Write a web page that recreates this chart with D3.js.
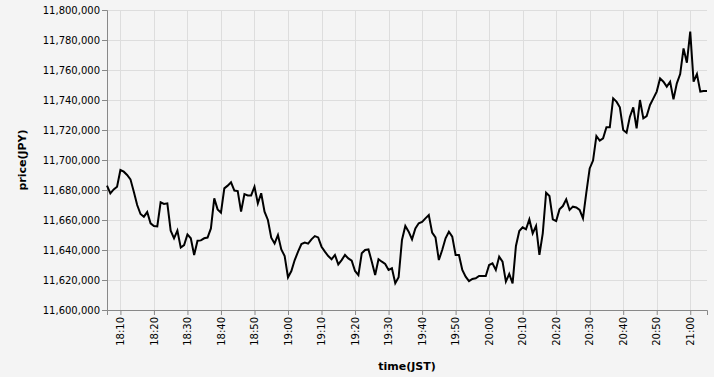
<!DOCTYPE html>
<html>
<head>
<meta charset="utf-8">
<script src="https://cdn.jsdelivr.net/npm/d3@7"></script>
<style>
  html, body { margin: 0; padding: 0; background: #f4f4f4; }
  svg { display: block; font-family: "DejaVu Sans", sans-serif; }
</style>
</head>
<body>
<svg id="chart" width="714" height="377"></svg>
<script>
const times = [
  "18:06","18:07","18:08","18:09","18:10","18:11","18:12","18:13","18:14","18:15","18:16","18:17","18:18","18:19",
  "18:20","18:21","18:22","18:23","18:24","18:25","18:26","18:27","18:28","18:29",
  "18:30","18:31","18:32","18:33","18:34","18:35","18:36","18:37","18:38","18:39",
  "18:40","18:41","18:42","18:43","18:44","18:45","18:46","18:47","18:48","18:49",
  "18:50","18:51","18:52","18:53","18:54","18:55","18:56","18:57","18:58","18:59",
  "19:00","19:01","19:02","19:03","19:04","19:05","19:06","19:07","19:08","19:09",
  "19:10","19:11","19:12","19:13","19:14","19:15","19:16","19:17","19:18","19:19",
  "19:20","19:21","19:22","19:23","19:24","19:25","19:26","19:27","19:28","19:29",
  "19:30","19:31","19:32","19:33","19:34","19:35","19:36","19:37","19:38","19:39",
  "19:40","19:41","19:42","19:43","19:44","19:45","19:46","19:47","19:48","19:49",
  "19:50","19:51","19:52","19:53","19:54","19:55","19:56","19:57","19:58","19:59",
  "20:00","20:01","20:02","20:03","20:04","20:05","20:06","20:07","20:08","20:09",
  "20:10","20:11","20:12","20:13","20:14","20:15","20:16","20:17","20:18","20:19",
  "20:20","20:21","20:22","20:23","20:24","20:25","20:26","20:27","20:28","20:29",
  "20:30","20:31","20:32","20:33","20:34","20:35","20:36","20:37","20:38","20:39",
  "20:40","20:41","20:42","20:43","20:44","20:45","20:46","20:47","20:48","20:49",
  "20:50","20:51","20:52","20:53","20:54","20:55","20:56","20:57","20:58","20:59",
  "21:00","21:01","21:02","21:03","21:04","21:05"
];

const prices = [
  11682900,11677800,11680400,11682200,11693300,11692200,11690000,11687100,11678900,11670000,
  11664000,11662200,11665300,11657800,11656000,11655800,11671800,11670700,11671100,11652900,
  11647800,11652900,11641600,11643300,11650400,11647800,11636700,11646200,11646400,11647800,
  11648300,11654400,11674400,11667100,11664900,11681100,11682900,11685100,11679600,11679300,
  11665600,11677300,11676400,11676400,11682200,11671100,11677800,11665600,11660000,11648200,
  11644400,11650000,11640400,11636000,11621800,11626000,11633300,11638900,11644000,11644900,
  11644200,11647100,11649300,11648400,11642200,11638900,11636000,11633800,11636700,11630400,
  11633300,11636700,11634400,11632900,11626000,11623300,11637800,11640000,11640400,11632200,
  11623300,11633800,11632200,11630700,11626700,11627800,11617800,11621800,11646700,11656000,
  11652200,11647100,11654400,11657800,11658700,11661100,11663300,11651600,11648400,11633300,
  11640000,11647800,11652200,11648900,11636700,11636700,11626700,11622200,11619300,11620700,
  11621100,11622700,11622700,11622700,11630000,11631100,11626700,11635600,11632200,11618900,
  11624000,11617800,11642700,11652700,11655100,11653800,11660400,11651100,11656000,11636700,
  11651100,11678200,11676000,11660400,11659300,11667100,11669300,11673800,11666700,11668900,
  11668400,11666700,11661100,11678200,11694400,11699600,11716000,11712900,11714400,11721800,
  11721800,11741100,11738900,11735100,11720000,11718200,11728900,11735100,11721100,11740000,
  11727800,11729300,11736700,11741100,11745600,11754400,11752200,11748900,11752200,11740400,
  11751100,11757300,11774400,11764900,11785600,11752200,11757300,11745600,11746000,11746000
];

const yTicks = [11600000,11620000,11640000,11660000,11680000,11700000,11720000,11740000,11760000,11780000,11800000];
const xTickLabels = ["18:10","18:20","18:30","18:40","18:50","19:00","19:10","19:20","19:30","19:40","19:50",
                     "20:00","20:10","20:20","20:30","20:40","20:50","21:00"];

const parse = d3.timeParse("%H:%M");
const data = times.map((t, i) => ({ t: parse(t), v: prices[i] }));

const margin = { left: 107, top: 10 };
const W = 600, H = 300;

const svg = d3.select("#chart");
svg.append("rect").attr("width", 714).attr("height", 377).attr("fill", "#f4f4f4");

const g = svg.append("g").attr("transform", `translate(${margin.left},${margin.top})`);

const x = d3.scaleTime().domain(d3.extent(data, d => d.t)).range([0, W]);
const y = d3.scaleLinear().domain([11600000, 11800000]).range([H, 0]);

const xTicks = xTickLabels.map(parse);
const fmtY = d3.format(",");

// grid
g.append("g").selectAll("line").data(yTicks).join("line")
  .attr("x1", 0).attr("x2", W)
  .attr("y1", d => Math.round(y(d)) + 0.5).attr("y2", d => Math.round(y(d)) + 0.5)
  .attr("stroke", "#ddd").attr("stroke-width", 1);
g.append("g").selectAll("line").data(xTicks).join("line")
  .attr("y1", 0).attr("y2", H)
  .attr("x1", d => Math.round(x(d)) + 0.5).attr("x2", d => Math.round(x(d)) + 0.5)
  .attr("stroke", "#ddd").attr("stroke-width", 1);

// axes
const yAxis = g.append("g")
  .call(d3.axisLeft(y).tickValues(yTicks).tickFormat(fmtY).tickSize(5).tickPadding(2));
yAxis.selectAll("path, line").attr("stroke", "#888");
yAxis.selectAll("text").attr("font-size", 10).attr("fill", "#000")
  .attr("font-family", "DejaVu Sans, sans-serif");

const xAxis = g.append("g").attr("transform", `translate(0,${H})`)
  .call(d3.axisBottom(x).tickValues(xTicks).tickFormat(d3.timeFormat("%H:%M")).tickSize(5).tickPadding(2));
xAxis.selectAll("path, line").attr("stroke", "#888");
xAxis.selectAll("text")
  .attr("font-size", 10).attr("fill", "#000")
  .attr("font-family", "DejaVu Sans, sans-serif")
  .attr("transform", "rotate(-90)")
  .attr("text-anchor", "end")
  .attr("x", -7).attr("y", 0).attr("dy", "0.32em");

// line
g.append("path").datum(data)
  .attr("fill", "none").attr("stroke", "#000").attr("stroke-width", 2)
  .attr("stroke-linejoin", "miter")
  .attr("d", d3.line().x(d => x(d.t)).y(d => y(d.v)));

// titles
svg.append("text")
  .attr("transform", `translate(26,${margin.top + H / 2}) rotate(-90)`)
  .attr("text-anchor", "middle")
  .attr("font-size", 11).attr("font-weight", "bold").attr("fill", "#000")
  .text("price(JPY)");
svg.append("text")
  .attr("x", margin.left + W / 2).attr("y", 370)
  .attr("text-anchor", "middle")
  .attr("font-size", 11).attr("font-weight", "bold").attr("fill", "#000")
  .text("time(JST)");
</script>
</body>
</html>
